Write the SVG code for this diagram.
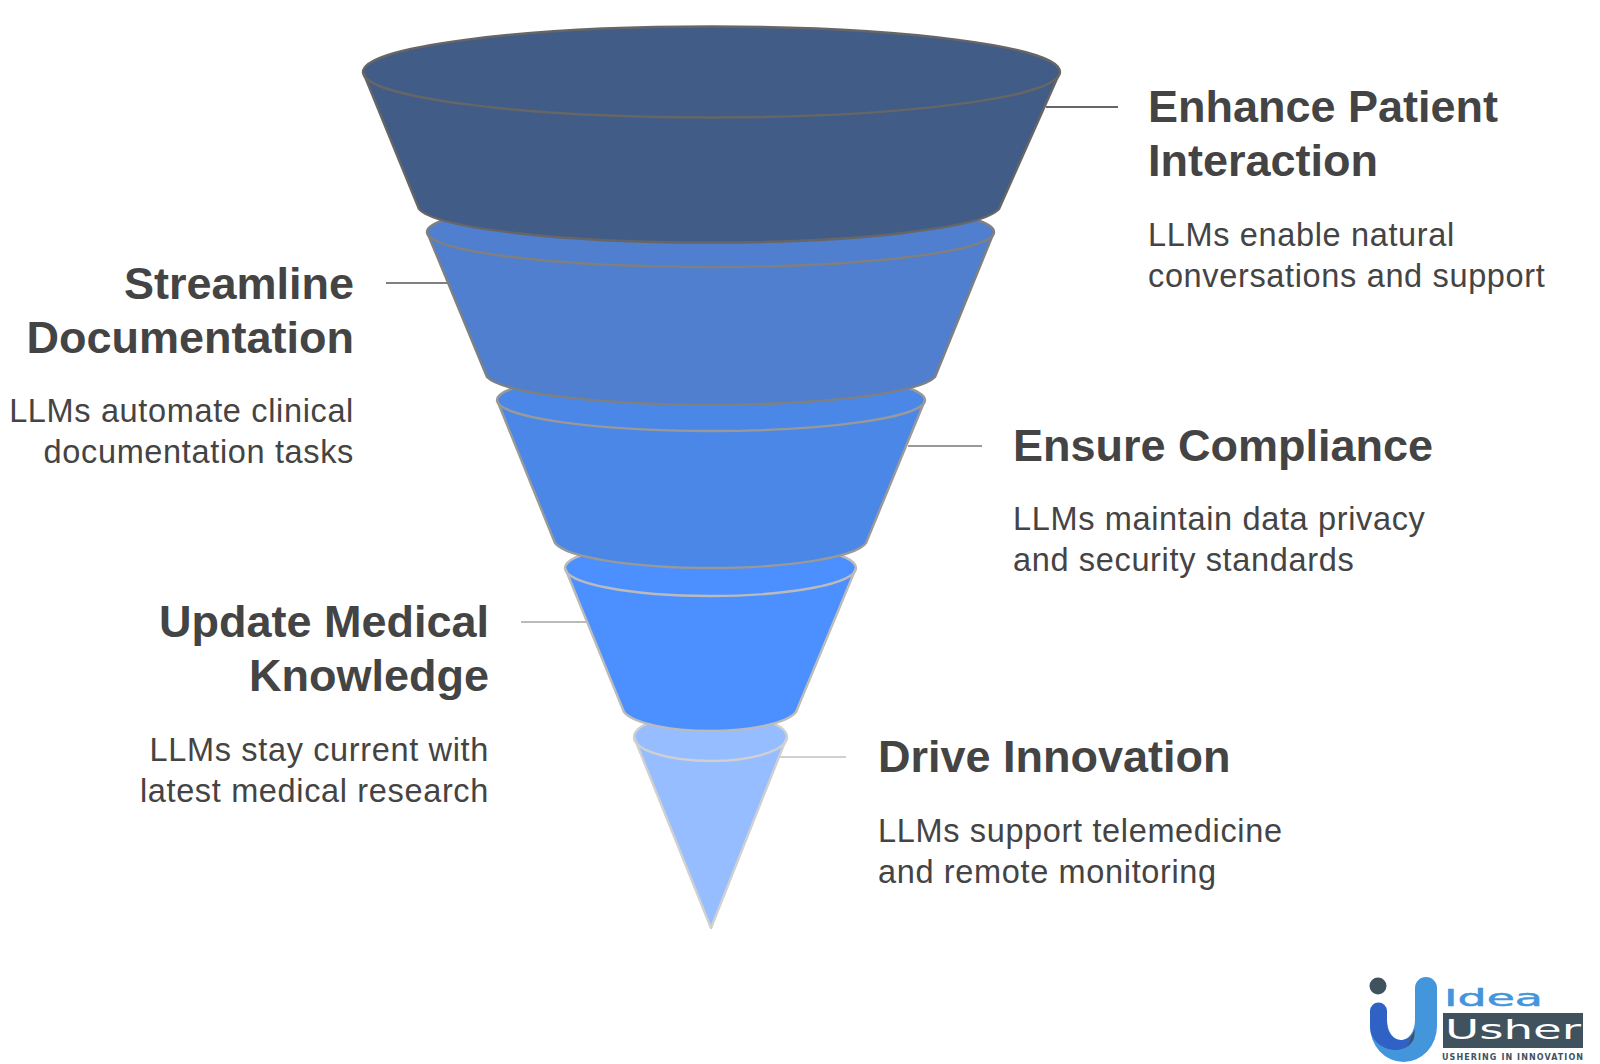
<svg xmlns="http://www.w3.org/2000/svg" width="1600" height="1064" viewBox="0 0 1600 1064">
<style>
text{font-family:"Liberation Sans",Arial,sans-serif;fill:#444}
.h{font-size:45px;font-weight:700}
.b{font-size:32.5px;font-weight:400;letter-spacing:.65px}
.e{text-anchor:end}
.seg{stroke-width:2.4;stroke-linejoin:round}
.rim{fill:none;stroke-width:2.4}
.lead{fill:none;stroke-width:2.2}
</style>
<rect width="1600" height="1064" fill="#fff"/>
<g id="connectors">
<path class="lead" stroke="#666" d="M1046 107H1118"/>
<path class="lead" stroke="#808080" d="M386 283H452"/>
<path class="lead" stroke="#999" d="M908 446H982"/>
<path class="lead" stroke="#bbb" d="M521 622H590"/>
<path class="lead" stroke="#d0d0d0" d="M780 757H846"/>
</g>
<g id="segment-5">
<path class="seg" fill="#96BDFF" stroke="#d0d0d0" d="M634 737A76.5 24 0 0 1 787 737L711 928Z"/>
<path class="rim" stroke="#d0d0d0" d="M634 737A76.5 24 0 0 0 787 737"/>
</g>
<g id="segment-4">
<path class="seg" fill="#4C8FFF" stroke="#bbb" d="M565 568A145.5 28 0 0 1 856 568L796 712A88 24 0 0 1 624 712Z"/>
<path class="rim" stroke="#bbb" d="M565 568A145.5 28 0 0 0 856 568"/>
</g>
<g id="segment-3">
<path class="seg" fill="#4B87E6" stroke="#999" d="M497 400A214 31 0 0 1 925 400L866 543A157 29 0 0 1 555 543Z"/>
<path class="rim" stroke="#999" d="M497 400A214 31 0 0 0 925 400"/>
</g>
<g id="segment-2">
<path class="seg" fill="#4F7FCE" stroke="#808080" d="M427 232A283.500 35 0 0 1 994 232L935 377A226 32 0 0 1 487 377Z"/>
<path class="rim" stroke="#808080" d="M427 232A283.500 35 0 0 0 994 232"/>
</g>
<g id="segment-1">
<path class="seg" fill="#415C87" stroke="#666" d="M363 72A348.500 45.500 0 0 1 1060 72L999 209A292 38 0 0 1 419 209Z"/>
<path class="rim" stroke="#666" d="M363 72A348.500 45.500 0 0 0 1060 72"/>
</g>
<g id="label-enhance">
<text class="h" x="1148" y="122">Enhance Patient</text>
<text class="h" x="1148" y="176">Interaction</text>
<text class="b" x="1148" y="246">LLMs enable natural</text>
<text class="b" x="1148" y="287">conversations and support</text>
</g>
<g id="label-streamline">
<text class="h e" x="354" y="299">Streamline</text>
<text class="h e" x="354" y="353">Documentation</text>
<text class="b e" x="354" y="422">LLMs automate clinical</text>
<text class="b e" x="354" y="463">documentation tasks</text>
</g>
<g id="label-compliance">
<text class="h" x="1013" y="461">Ensure Compliance</text>
<text class="b" x="1013" y="530">LLMs maintain data privacy</text>
<text class="b" x="1013" y="571">and security standards</text>
</g>
<g id="label-update">
<text class="h e" x="489" y="637">Update Medical</text>
<text class="h e" x="489" y="691">Knowledge</text>
<text class="b e" x="489" y="761">LLMs stay current with</text>
<text class="b e" x="489" y="802">latest medical research</text>
</g>
<g id="label-drive">
<text class="h" x="878" y="772">Drive Innovation</text>
<text class="b" x="878" y="842">LLMs support telemedicine</text>
<text class="b" x="878" y="883">and remote monitoring</text>
</g>
<g id="logo">
<circle cx="1378" cy="986" r="8.5" fill="#41525f"/>
<path fill="#4496dc" d="M1415 988A11 11 0 0 1 1437 988V1026A33.5 36 0 0 1 1370 1026V1015H1387V1020A14 20 0 0 0 1415 1020Z"/>
<path fill="#3f5060" d="M1403 1040C1408 1040 1412 1036 1415 1029L1414 1038C1412 1044 1407 1048 1400 1049Z"/>
<path fill="#2f62c4" d="M1370 1011A8.5 8.5 0 0 1 1387 1011V1022C1387 1034 1394 1040 1401 1040C1406 1040 1410 1039 1412 1036C1410 1045 1405 1050 1396 1050C1382 1050 1370 1040 1370 1026Z"/>
<text x="1444" y="1006" font-size="23" textLength="99" lengthAdjust="spacingAndGlyphs" style="font-family:'DejaVu Sans',sans-serif;fill:#4496dc;stroke:#4496dc;stroke-width:.5">Idea</text>
<rect x="1443" y="1013" width="140" height="35" fill="#41525f"/>
<text x="1445" y="1039" font-size="27" textLength="136" lengthAdjust="spacingAndGlyphs" style="font-family:'DejaVu Sans',sans-serif;fill:#fff">Usher</text>
<text x="1442" y="1060" font-size="8" font-weight="700" textLength="141" style="font-family:'DejaVu Sans',sans-serif;fill:#41525f">USHERING IN INNOVATION</text>
</g>
</svg>
